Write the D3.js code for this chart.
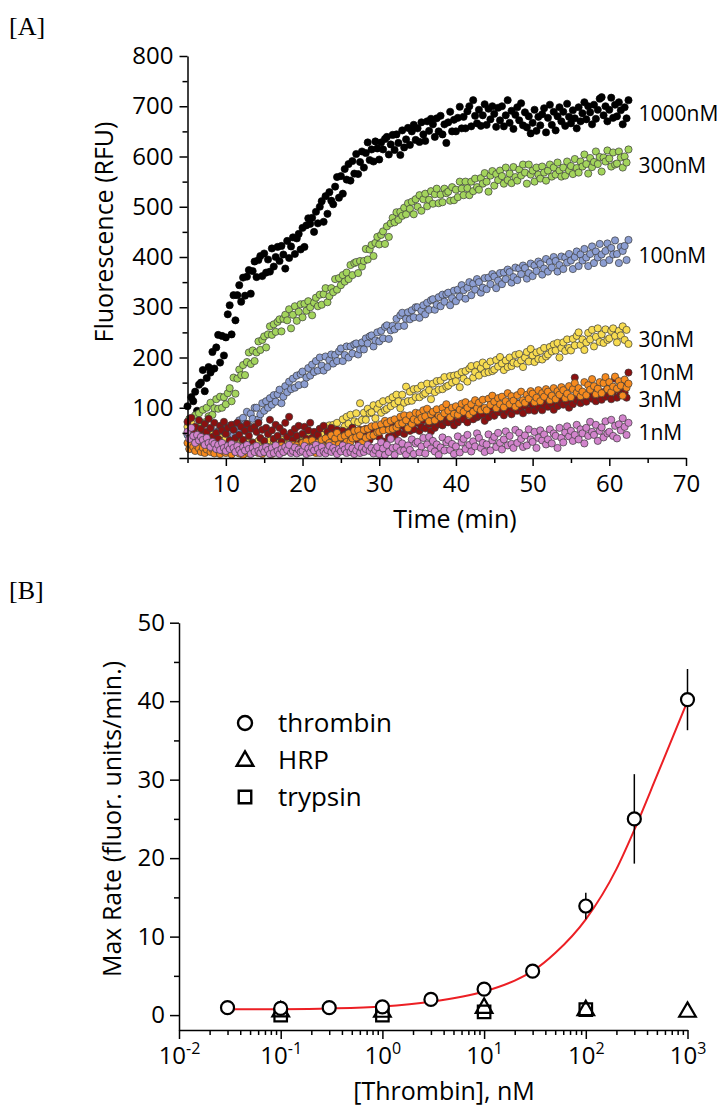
<!DOCTYPE html>
<html>
<head>
<meta charset="utf-8">
<script src="https://cdn.jsdelivr.net/npm/d3@7/dist/d3.min.js"></script>
<style>
html,body{margin:0;padding:0;background:#fff;}
svg{display:block;}
</style>
</head>
<body>
<script>
// ---------------- Panel A data ----------------
const timeStart = 5;      // min, first reading
const timeStep = 0.25;    // min between readings
const seriesLabels = ["1000nM","300nM","100nM","30nM","10nM","3nM","1nM"];
const seriesColors = ["#000000","#a3d45c","#8c9ed2","#f8dc50","#8b1010","#f68a1e","#d283cc"];
const labelRFU = [685,582,403,236,170,116,51];

const rfu1000 = [103,77,121,113,132,94,146,150,175,133,159,181,170,211,178,220,245,190,243,204,240,286,304,246,324,274,324,344,311,359,323,361,374,327,372,391,360,394,402,362,407,369,395,371,417,381,400,420,392,422,405,377,432,398,421,439,406,437,446,415,458,420,463,477,466,478,450,490,467,500,511,470,521,486,529,512,505,540,559,518,561,526,575,554,585,552,591,566,605,565,589,610,578,607,628,593,614,590,630,616,594,628,614,635,639,604,624,643,613,644,627,603,652,618,634,657,623,650,663,633,656,629,668,644,631,670,651,675,664,639,676,650,681,644,664,627,668,689,650,673,650,677,699,656,679,656,690,700,660,712,681,666,693,661,682,704,663,695,674,700,685,659,697,672,700,660,682,712,667,691,655,683,698,672,706,662,688,658,680,646,667,693,651,679,662,684,696,648,677,703,663,689,652,680,698,670,689,661,705,679,666,692,676,656,698,670,686,708,674,700,688,664,703,675,693,715,718,682,700,670,693,717,677,703,680,708,692,664,698,676,712];
const rfu300 = [48,78,52,60,85,54,89,63,96,71,100,83,110,86,99,117,98,122,100,121,107,129,139,113,160,128,158,176,165,185,165,191,210,187,214,193,210,232,215,235,242,220,246,262,245,266,251,271,276,252,277,285,274,296,258,285,302,273,291,306,280,307,293,312,300,284,309,319,302,325,305,326,338,310,322,338,330,356,335,358,344,364,351,369,356,384,364,388,390,368,392,381,392,416,395,415,424,402,428,440,425,444,451,426,461,440,467,478,469,489,474,490,482,498,485,507,496,510,485,515,500,523,492,515,526,501,514,531,506,525,536,507,524,509,536,527,530,512,539,513,534,519,550,536,523,550,537,523,550,531,556,539,534,557,546,567,550,530,562,571,542,565,553,572,561,546,578,553,566,547,579,559,552,574,562,584,568,546,584,564,572,550,578,564,556,580,568,552,572,584,560,578,564,588,572,560,578,562,590,572,581,565,595,577,568,590,580,604,585,566,597,579,589,610,585,599,570,598,590,612,596,580,608,584,586,610,598,578,600,588,614];
const rfu100 = [46,18,36,26,37,21,47,29,24,48,36,30,47,31,53,39,36,58,46,52,58,40,64,50,45,67,57,75,56,80,68,92,64,88,78,100,100,77,87,109,94,113,100,119,106,125,112,127,136,109,122,143,131,152,137,158,140,164,145,167,172,147,160,179,164,186,171,193,174,200,184,174,202,181,195,206,188,205,193,212,218,193,205,222,200,222,208,226,228,206,216,230,216,238,228,242,244,222,234,250,232,253,238,261,264,237,254,263,256,277,262,284,289,263,277,290,276,294,280,300,300,279,293,304,286,309,295,314,316,295,305,320,302,325,311,326,329,304,318,333,312,335,321,344,334,317,339,350,324,347,335,356,350,329,339,358,336,359,346,366,361,338,353,368,346,369,356,375,370,349,360,379,354,377,366,383,378,357,368,387,362,383,372,391,386,365,377,396,371,390,379,400,392,371,384,401,376,399,389,406,393,376,400,411,382,405,393,416,399,382,406,421,388,411,399,426,405,388,412,427,394,418,405,433,406,388,420,412,422,394,434];
const rfu30 = [62,48,70,55,44,58,52,40,50,38,47,42,35,46,30,41,28,40,34,25,38,26,33,22,30,20,36,27,18,32,24,35,27,20,31,16,24,34,19,28,30,18,26,35,22,33,28,17,31,24,36,26,28,38,22,33,40,30,36,27,34,44,30,40,46,35,42,50,35,58,47,27,58,43,65,44,66,48,70,53,55,77,63,82,68,86,60,73,89,71,109,76,90,76,98,89,91,105,79,98,108,90,113,95,98,116,103,121,108,126,113,99,126,110,142,113,132,114,137,121,138,121,144,126,129,148,135,117,148,131,153,136,154,137,161,142,144,163,150,164,153,166,141,171,158,173,152,178,183,160,171,185,164,179,190,169,184,171,192,173,176,195,182,201,188,175,194,181,200,183,190,205,188,207,194,181,200,211,192,217,204,191,210,197,213,196,219,202,206,221,212,226,214,229,200,219,230,213,236,219,214,237,224,243,250,225,236,215,230,249,236,255,222,241,258,231,246,229,256,235,238,253,258,243,230,253,244,262,235,255,227];
const rfu10 = [72,48,80,55,62,40,75,58,45,68,52,78,60,42,70,50,38,64,55,72,48,60,35,66,56,40,70,46,62,36,54,68,44,58,30,62,52,70,40,56,34,60,48,76,55,38,66,44,60,32,52,70,42,82,50,36,58,44,64,30,48,62,38,55,70,40,52,34,46,58,30,64,38,52,44,60,50,32,56,40,36,54,46,30,52,38,60,42,44,34,56,48,40,58,46,36,52,44,60,48,42,65,33,57,58,42,67,49,43,63,51,69,64,48,57,74,54,68,57,75,70,54,62,75,59,79,67,53,73,60,83,67,78,65,84,72,71,86,77,65,88,71,78,94,77,88,71,95,90,77,96,81,84,99,87,74,94,81,101,88,84,103,91,98,98,85,105,93,104,87,98,110,94,109,100,89,104,115,95,110,106,94,117,101,112,95,106,118,102,120,108,96,116,103,121,110,106,125,112,100,120,107,160,114,122,109,128,116,112,123,134,118,126,113,136,120,116,131,122,138,126,117,132,158,120,135,126,142,130,120,170];
const rfu3 = [30,18,26,22,14,24,19,12,20,10,17,25,12,18,9,21,16,8,19,13,10,20,14,7,18,12,22,9,14,6,17,20,9,16,12,22,18,10,15,8,21,13,17,11,8,19,14,22,16,24,12,20,22,14,18,26,17,25,20,14,30,15,33,21,16,35,25,10,30,17,36,23,39,20,30,45,26,39,50,27,41,24,44,32,49,32,39,54,41,55,45,30,56,40,58,44,63,45,64,51,52,67,55,74,69,56,74,58,77,61,67,82,69,85,75,59,85,68,77,90,74,89,80,95,83,98,73,87,92,75,97,84,81,100,89,107,94,81,100,88,103,86,96,108,92,111,100,86,107,92,115,99,110,95,116,100,95,118,106,124,112,99,119,107,122,101,113,129,107,123,114,102,125,108,132,115,110,126,118,133,128,111,120,135,113,129,122,137,132,115,124,139,117,133,126,141,135,119,128,143,121,137,149,130,139,123,132,151,125,145,136,157,143,127,138,151,129,149,161,137,151,131,142,162,138,153,144,124,156,140,148];
const rfu1 = [52,38,60,44,30,46,35,42,36,26,40,30,22,32,28,18,26,16,30,20,14,24,18,28,20,12,24,16,10,22,15,26,18,8,20,12,24,14,10,19,12,22,16,8,20,10,25,14,8,18,12,22,16,26,10,14,21,9,17,12,14,24,8,19,11,20,15,26,18,10,22,13,9,16,24,12,20,14,8,18,13,25,17,10,22,12,19,8,15,24,10,20,12,18,26,14,20,9,16,22,8,31,19,6,26,12,38,20,6,22,34,14,29,15,7,25,16,37,8,29,32,11,23,40,9,27,42,19,34,13,27,6,21,41,15,31,36,16,28,8,23,43,11,31,38,18,46,26,13,33,23,49,40,20,30,12,27,47,15,35,42,22,50,30,17,37,53,25,44,28,20,56,30,50,38,22,45,25,57,37,32,52,20,40,55,35,47,27,37,57,29,49,44,20,60,40,31,51,63,43,54,34,46,66,37,57,49,29,60,44,72,52,46,66,34,54,61,41,73,49,52,76,44,64,39,67,55,79,62,46,70];

const timeTicks = [10,20,30,40,50,60,70];
const timeMinorTicks = [5,15,25,35,45,55,65];
const rfuTicks = [0,100,200,300,400,500,600,700,800];
const rfuMinorTicks = [50,150,250,350,450,550,650,750];

// ---------------- Panel B data ----------------
const conc = [0.03,0.1,0.3,1,3,10,30,100,300,1000];
const thrombinRate = [0.95,0.85,0.95,1.05,2.0,3.3,5.6,13.9,25.0,40.2];
const thrombinErr = [0.3,0.3,0.5,0.4,0.7,0.5,0.4,1.7,5.7,3.9];
const hrpConc = [0.1,1,10,100,1000];
const hrpRate = [0.45,0.4,0.9,0.6,0.4];
const trypsinConc = [0.1,1,10,100];
const trypsinRate = [0.0,0.0,0.4,0.7];
const fitConc = [0.03,0.1,0.3,1,3,10,20,30,50,100,200,300,500,1000];
const fitRate = [0.73,0.76,0.85,1.1,1.7,3.0,4.4,5.6,7.9,12.2,18.6,23.6,30.5,40.0];

const concTicks = [0.01,0.1,1,10,100,1000];
const concExponents = ["-2","-1","0","1","2","3"];
const rateTicks = [0,10,20,30,40,50];
const rateMinorTicks = [5,15,25,35,45];
const legendLabels = ["thrombin","HRP","trypsin"];

// ---------------- drawing ----------------
const FONT = '"Open Sans", sans-serif';
const SERIF = '"Liberation Serif", "Times New Roman", serif';
const svg = d3.select("body").append("svg").attr("width",728).attr("height",1116);

function styleAxis(g, fs){
  g.attr("font-family",FONT).attr("font-size",fs);
  g.selectAll("path,line").attr("stroke","#000").attr("stroke-width",1.5);
  g.selectAll("text").attr("fill","#000");
}

// ===== Panel A =====
const xA = d3.scaleLinear().domain([5,70]).range([187.5,686]);
const yA = d3.scaleLinear().domain([0,800]).range([458,56]);

svg.append("text").attr("x",9).attr("y",35).attr("font-family",SERIF).attr("font-size",26).text("[A]");

const series = [rfu1000,rfu300,rfu100,rfu30,rfu10,rfu3,rfu1];
const drawOrder = [0,1,2,3,4,5,6];
const gDots = svg.append("g");
drawOrder.forEach(si=>{
  const vals = series[si];
  gDots.append("g").selectAll("circle").data(vals).join("circle")
    .attr("cx",(d,i)=>xA(timeStart+i*timeStep))
    .attr("cy",d=>yA(d))
    .attr("r",3.6)
    .attr("fill",seriesColors[si])
    .attr("stroke",si===0?"#000":"#3a3a3a")
    .attr("stroke-width",0.7);
});

// axes A
const axXminA = svg.append("g").attr("transform",`translate(0,${yA(0)})`)
  .call(d3.axisBottom(xA).tickValues(timeMinorTicks).tickSize(5).tickFormat("").tickSizeOuter(0));
axXminA.select(".domain").remove(); styleAxis(axXminA,24);
const axXA = svg.append("g").attr("transform",`translate(0,${yA(0)})`)
  .call(d3.axisBottom(xA).tickValues(timeTicks).tickSize(8).tickPadding(9).tickSizeOuter(0).tickFormat(d3.format("d")));
styleAxis(axXA,24);
const axYminA = svg.append("g").attr("transform",`translate(${xA(5)},0)`)
  .call(d3.axisLeft(yA).tickValues(rfuMinorTicks).tickSize(5).tickFormat("").tickSizeOuter(0));
axYminA.select(".domain").remove(); styleAxis(axYminA,24);
const axYA = svg.append("g").attr("transform",`translate(${xA(5)},0)`)
  .call(d3.axisLeft(yA).tickValues(rfuTicks).tickSize(8).tickPadding(6).tickSizeOuter(0).tickFormat(d=>d===0?"":d));
styleAxis(axYA,24);

svg.append("text").attr("transform",`translate(113,232) rotate(-90)`).attr("text-anchor","middle")
  .attr("font-family",FONT).attr("font-size",25).text("Fluorescence (RFU)");
svg.append("text").attr("x",455).attr("y",528).attr("text-anchor","middle")
  .attr("font-family",FONT).attr("font-size",25).text("Time (min)");

// series labels
const lastT = timeStart + (rfu1000.length-1)*timeStep;
svg.append("g").selectAll("text").data(seriesLabels).join("text")
  .attr("x",xA(lastT)+10)
  .attr("y",(d,i)=>yA(labelRFU[i])+7.5)
  .attr("font-family",FONT).attr("font-size",21).text(d=>d);

// ===== Panel B =====
const xB = d3.scaleLog().domain([0.01,1000]).range([179,687.5]);
const yB = d3.scaleLinear().domain([-1.9,50]).range([1030,622.7]);

svg.append("text").attr("x",9).attr("y",599).attr("font-family",SERIF).attr("font-size",26).text("[B]");

// fit curve
const line = d3.line().x(d=>xB(d[0])).y(d=>yB(d[1])).curve(d3.curveMonotoneX);
svg.append("path").datum(fitConc.map((c,i)=>[c,fitRate[i]]))
  .attr("d",line).attr("fill","none").attr("stroke","#ec1f24").attr("stroke-width",2);

// error bars
svg.append("g").selectAll("line").data(conc).join("line")
  .attr("x1",d=>xB(d)).attr("x2",d=>xB(d))
  .attr("y1",(d,i)=>yB(thrombinRate[i]-thrombinErr[i]))
  .attr("y2",(d,i)=>yB(thrombinRate[i]+thrombinErr[i]))
  .attr("stroke","#000").attr("stroke-width",1.5);

const sqSym = d3.symbol(d3.symbolSquare).size(156);
const triSym = d3.symbol(d3.symbolTriangle).size(120);

svg.append("g").selectAll("path").data(trypsinConc).join("path")
  .attr("d",sqSym).attr("transform",(d,i)=>`translate(${xB(d)},${yB(trypsinRate[i])})`)
  .attr("fill","none").attr("stroke","#000").attr("stroke-width",2.2);
svg.append("g").selectAll("path").data(hrpConc).join("path")
  .attr("d",triSym).attr("transform",(d,i)=>`translate(${xB(d)},${yB(hrpRate[i])})`)
  .attr("fill","none").attr("stroke","#000").attr("stroke-width",2.2);
svg.append("g").selectAll("circle").data(conc).join("circle")
  .attr("cx",d=>xB(d)).attr("cy",(d,i)=>yB(thrombinRate[i])).attr("r",6.5)
  .attr("fill","#fff").attr("stroke","#000").attr("stroke-width",2.2);

// axes B
const minorLog = xB.ticks().filter(v=>!concTicks.some(t=>Math.abs(t-v)/t<1e-6));
const axXminB = svg.append("g").attr("transform",`translate(0,1030)`)
  .call(d3.axisBottom(xB).tickValues(minorLog).tickSize(5).tickFormat("").tickSizeOuter(0));
axXminB.select(".domain").remove(); styleAxis(axXminB,24);
const axXB = svg.append("g").attr("transform",`translate(0,1030)`)
  .call(d3.axisBottom(xB).tickValues(concTicks).tickSize(9).tickPadding(8).tickSizeOuter(0).tickFormat(""));
styleAxis(axXB,24);
axXB.selectAll(".tick text").each(function(d,i){
  const t = d3.select(this);
  t.text(null).attr("text-anchor","middle");
  t.append("tspan").text("10");
  t.append("tspan").attr("font-size",16).attr("dy",-10).text(concExponents[i]);
});
const axYminB = svg.append("g").attr("transform",`translate(${xB(0.01)},0)`)
  .call(d3.axisLeft(yB).tickValues(rateMinorTicks).tickSize(5).tickFormat("").tickSizeOuter(0));
axYminB.select(".domain").remove(); styleAxis(axYminB,24);
const axYB = svg.append("g").attr("transform",`translate(${xB(0.01)},0)`)
  .call(d3.axisLeft(yB).tickValues(rateTicks).tickSize(9).tickPadding(5).tickSizeOuter(0).tickFormat(d3.format("d")));
styleAxis(axYB,24);

svg.append("text").attr("transform",`translate(121,819) rotate(-90)`).attr("text-anchor","middle")
  .attr("font-family",FONT).attr("font-size",25).text("Max Rate (fluor. units/min.)");
svg.append("text").attr("x",444).attr("y",1100).attr("text-anchor","middle")
  .attr("font-family",FONT).attr("font-size",25).text("[Thrombin], nM");

// legend
const legY = [723,760,797];
const gLeg = svg.append("g");
gLeg.append("circle").attr("cx",245).attr("cy",legY[0]).attr("r",7)
  .attr("fill","#fff").attr("stroke","#000").attr("stroke-width",2.4);
gLeg.append("path").attr("d",triSym).attr("transform",`translate(245,${legY[1]+1})`)
  .attr("fill","none").attr("stroke","#000").attr("stroke-width",2.4);
gLeg.append("path").attr("d",sqSym).attr("transform",`translate(245,${legY[2]})`)
  .attr("fill","none").attr("stroke","#000").attr("stroke-width",2.4);
gLeg.selectAll("text.lg").data(legendLabels).join("text").attr("class","lg")
  .attr("x",278).attr("y",(d,i)=>legY[i]+8.5)
  .attr("font-family",FONT).attr("font-size",26).text(d=>d);
</script>
</body>
</html>
